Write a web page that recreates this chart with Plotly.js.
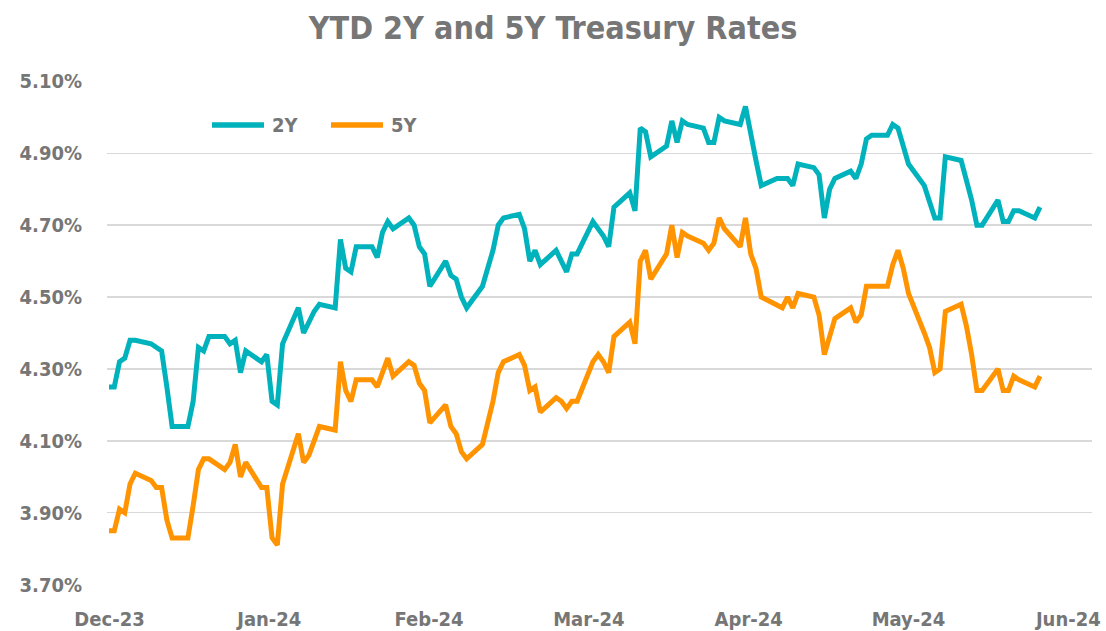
<!DOCTYPE html>
<html>
<head>
<meta charset="utf-8">
<script src="https://cdn.plot.ly/plotly-3.0.1.min.js"></script>
<style>
  html, body { margin: 0; padding: 0; background: #ffffff; }
  #chart { width: 1106px; height: 631px; }
</style>
</head>
<body>
<div id="chart"></div>
<script>
// ---------------- DATA ----------------
const dates = [
  '2023-12-31',
  '2024-01-01','2024-01-02','2024-01-03','2024-01-04','2024-01-05',
  '2024-01-08','2024-01-09','2024-01-10','2024-01-11','2024-01-12',
  '2024-01-15','2024-01-16','2024-01-17','2024-01-18','2024-01-19',
  '2024-01-22','2024-01-23','2024-01-24','2024-01-25','2024-01-26',
  '2024-01-29','2024-01-30','2024-01-31','2024-02-01','2024-02-02',
  '2024-02-05','2024-02-06','2024-02-07','2024-02-08','2024-02-09',
  '2024-02-12','2024-02-13','2024-02-14','2024-02-15','2024-02-16',
  '2024-02-19','2024-02-20','2024-02-21','2024-02-22','2024-02-23',
  '2024-02-26','2024-02-27','2024-02-28','2024-02-29','2024-03-01',
  '2024-03-04','2024-03-05','2024-03-06','2024-03-07','2024-03-08',
  '2024-03-11','2024-03-12','2024-03-13','2024-03-14','2024-03-15',
  '2024-03-18','2024-03-19','2024-03-20','2024-03-21','2024-03-22',
  '2024-03-25','2024-03-26','2024-03-27','2024-03-28','2024-03-29',
  '2024-04-01','2024-04-02','2024-04-03','2024-04-04','2024-04-05',
  '2024-04-08','2024-04-09','2024-04-10','2024-04-11','2024-04-12',
  '2024-04-15','2024-04-16','2024-04-17','2024-04-18','2024-04-19',
  '2024-04-22','2024-04-23','2024-04-24','2024-04-25','2024-04-26',
  '2024-04-29','2024-04-30','2024-05-01','2024-05-02','2024-05-03',
  '2024-05-06','2024-05-07','2024-05-08','2024-05-09','2024-05-10',
  '2024-05-13','2024-05-14','2024-05-15','2024-05-16','2024-05-17',
  '2024-05-20','2024-05-21','2024-05-22','2024-05-23','2024-05-24',
  '2024-05-27','2024-05-28','2024-05-29','2024-05-30','2024-05-31',
  '2024-06-03','2024-06-04','2024-06-05','2024-06-06','2024-06-07',
  '2024-06-10','2024-06-11','2024-06-12','2024-06-13','2024-06-14',
  '2024-06-17','2024-06-18','2024-06-19','2024-06-20','2024-06-21',
  '2024-06-24','2024-06-25'
];

const rate2Y = [
  4.25,
  4.25, 4.32, 4.33, 4.38, 4.38,
  4.37, 4.36, 4.35, 4.25, 4.14,
  4.14, 4.21, 4.36, 4.35, 4.39,
  4.39, 4.37, 4.38, 4.29, 4.35,
  4.32, 4.34, 4.21, 4.20, 4.37,
  4.47, 4.40, 4.43, 4.46, 4.48,
  4.47, 4.66, 4.58, 4.57, 4.64,
  4.64, 4.61, 4.68, 4.71, 4.69,
  4.72, 4.70, 4.64, 4.62, 4.53,
  4.60, 4.56, 4.55, 4.50, 4.47,
  4.53, 4.58, 4.63, 4.70, 4.72,
  4.73, 4.69, 4.60, 4.63, 4.59,
  4.63, 4.60, 4.57, 4.62, 4.62,
  4.71, 4.69, 4.67, 4.64, 4.75,
  4.79, 4.74, 4.97, 4.96, 4.89,
  4.92, 4.99, 4.93, 4.99, 4.98,
  4.97, 4.93, 4.93, 5.00, 4.99,
  4.98, 5.03, 4.95, 4.88, 4.81,
  4.83, 4.83, 4.83, 4.81, 4.87,
  4.86, 4.84, 4.72, 4.80, 4.83,
  4.85, 4.83, 4.87, 4.94, 4.95,
  4.95, 4.98, 4.97, 4.92, 4.87,
  4.81, 4.77, 4.72, 4.72, 4.89,
  4.88, 4.83, 4.77, 4.70, 4.70,
  4.77, 4.71, 4.71, 4.74, 4.74,
  4.72, 4.75
];

const rate5Y = [
  3.85,
  3.85, 3.91, 3.90, 3.98, 4.01,
  3.99, 3.97, 3.97, 3.88, 3.83,
  3.83, 3.92, 4.02, 4.05, 4.05,
  4.02, 4.04, 4.09, 4.00, 4.04,
  3.97, 3.97, 3.83, 3.81, 3.98,
  4.12, 4.04, 4.06, 4.10, 4.14,
  4.13, 4.32, 4.24, 4.21, 4.27,
  4.27, 4.25, 4.29, 4.33, 4.28,
  4.32, 4.31, 4.26, 4.24, 4.15,
  4.20, 4.14, 4.12, 4.07, 4.05,
  4.09, 4.15, 4.21, 4.29, 4.32,
  4.34, 4.31, 4.24, 4.25, 4.18,
  4.22, 4.21, 4.19, 4.21, 4.21,
  4.32, 4.34, 4.32, 4.29, 4.39,
  4.43, 4.37, 4.60, 4.63, 4.55,
  4.62, 4.70, 4.61, 4.68, 4.67,
  4.65, 4.63, 4.65, 4.72, 4.69,
  4.64, 4.72, 4.62, 4.58, 4.50,
  4.48, 4.47, 4.50, 4.47, 4.51,
  4.50, 4.45, 4.34, 4.39, 4.44,
  4.47, 4.43, 4.45, 4.53, 4.53,
  4.53, 4.59, 4.63, 4.58, 4.51,
  4.40, 4.36, 4.29, 4.30, 4.46,
  4.48, 4.42, 4.34, 4.24, 4.24,
  4.30, 4.24, 4.24, 4.28, 4.27,
  4.25, 4.28
];

const seriesNames = ['2Y', '5Y'];
const yTickVals = [3.70, 3.90, 4.10, 4.30, 4.50, 4.70, 4.90, 5.10];
const yTickText = ['3.70%', '3.90%', '4.10%', '4.30%', '4.50%', '4.70%', '4.90%', '5.10%'];
const xTickText = ['Dec-23', 'Jan-24', 'Feb-24', 'Mar-24', 'Apr-24', 'May-24', 'Jun-24'];

// ---------------- LAYOUT / STYLE ----------------
const W = 1106, H = 631;
const plotL = 107, plotR = 1092, plotT = 81, plotB = 585;
const DAY = 86400000;
const origin = Date.UTC(2023, 11, 31);
const originPx = 109;
const pxPerDay = 5.26;
const firstTickPx = 109.5, tickStepPx = 159.8;

function pxToDate(px) {
  const ms = origin + (px - originPx) / pxPerDay * DAY;
  return new Date(ms).toISOString().replace('T', ' ').replace('Z', '');
}
const xRange = [pxToDate(plotL), pxToDate(plotR)];
const xTickVals = xTickText.map((_, i) => pxToDate(firstTickPx + i * tickStepPx));

const colors = ['#00B2BB', '#FF9400'];
const grey = '#767676';
const FONT = "'DejaVu Sans Condensed', 'DejaVu Sans', sans-serif";

const traces = [rate2Y, rate5Y].map((vals, i) => ({
  type: 'scatter',
  mode: 'lines',
  name: seriesNames[i],
  x: dates,
  y: vals,
  line: { color: colors[i], width: 5, shape: 'linear' },
  hoverinfo: 'skip'
}));

function pxX(px) { return (px - plotL) / (plotR - plotL); }
function pxY(py) { return (plotB - py) / (plotB - plotT); }

const legendY = 125;
const legendItems = [
  { x0: 212, x1: 264, tx: 270 },
  { x0: 331, x1: 383, tx: 389 }
];
const shapes = legendItems.map((it, i) => ({
  type: 'line', xref: 'paper', yref: 'paper',
  x0: pxX(it.x0), x1: pxX(it.x1), y0: pxY(legendY), y1: pxY(legendY),
  line: { color: colors[i], width: 5.5 }
}));
const annotations = legendItems.map((it, i) => ({
  xref: 'paper', yref: 'paper', x: pxX(it.tx), y: pxY(legendY),
  xanchor: 'left', yanchor: 'middle', showarrow: false,
  text: seriesNames[i],
  font: { family: FONT, size: 20, color: grey, weight: 'bold' }
}));

const layout = {
  width: W, height: H,
  margin: { l: plotL, r: W - plotR, t: plotT, b: H - plotB, pad: 0 },
  paper_bgcolor: '#ffffff',
  plot_bgcolor: '#ffffff',
  showlegend: false,
  title: {
    text: 'YTD 2Y and 5Y Treasury Rates',
    x: 0.5, xref: 'container', xanchor: 'center',
    y: 1 - 28 / H, yref: 'container', yanchor: 'middle',
    font: { family: FONT, size: 32, color: grey, weight: 'bold' }
  },
  xaxis: {
    type: 'date',
    range: xRange,
    tickmode: 'array',
    tickvals: xTickVals,
    ticktext: xTickText,
    showgrid: false,
    zeroline: false,
    showline: false,
    ticks: '',
    ticklabelstandoff: 20,
    tickfont: { family: FONT, size: 20, color: grey, weight: 'bold' },
    fixedrange: true
  },
  yaxis: {
    range: [3.699, 5.101],
    tickmode: 'array',
    tickvals: yTickVals,
    ticktext: yTickText,
    showgrid: true,
    gridcolor: '#d9d9d9',
    gridwidth: 1.5,
    zeroline: false,
    showline: false,
    ticks: '',
    ticklabelstandoff: 24,
    tickfont: { family: FONT, size: 20, color: grey, weight: 'bold' },
    fixedrange: true
  },
  shapes: shapes,
  annotations: annotations
};

Plotly.newPlot('chart', traces, layout, { displayModeBar: false, staticPlot: true });
</script>
</body>
</html>
